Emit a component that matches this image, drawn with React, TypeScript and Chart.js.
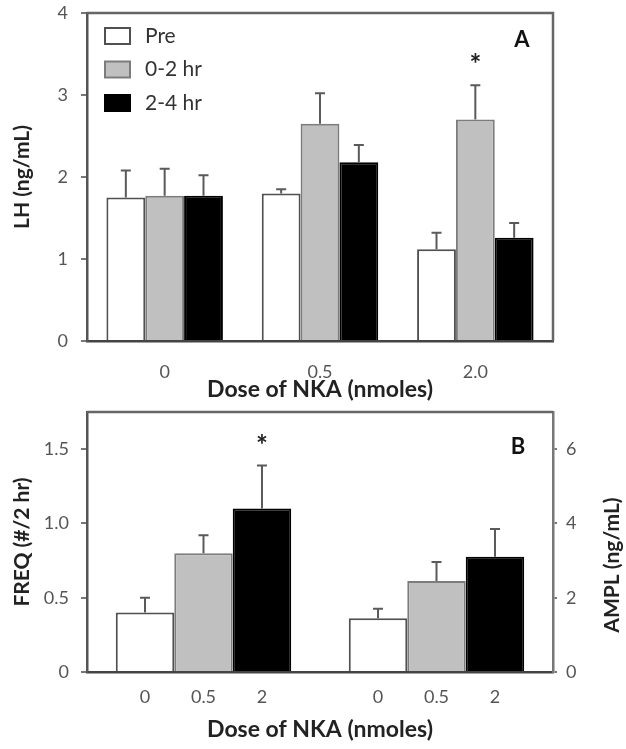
import React, { useEffect, useRef } from "react";
import { Chart, registerables } from "chart.js";
Chart.register(...registerables);

// ---------- Panel A data ----------
const doseCategoriesA = ["0", "0.5", "2.0"];
const seriesLabels = ["Pre", "0-2 hr", "2-4 hr"];
const lhPre = [1.75, 1.8, 1.12];
const lhPreErr = [0.33, 0.05, 0.2];
const lh02 = [1.77, 2.65, 2.7];
const lh02Err = [0.33, 0.37, 0.42];
const lh24 = [1.77, 2.18, 1.26];
const lh24Err = [0.25, 0.21, 0.18];
const lhAxisMax = 4;

// ---------- Panel B data ----------
const measuresB = ["FREQ", "AMPL"];
const doseLabelsB = ["0", "0.5", "2"];
const freqValues = [0.4, 0.8, 1.1];
const freqErr = [0.1, 0.12, 0.29];
const amplValues = [1.45, 2.45, 3.1];
const amplErr = [0.25, 0.51, 0.75];
const freqAxisMax = 1.75;
const amplAxisMax = 7;

const FONT = "Lato, 'DejaVu Sans', sans-serif";
const fills = ["#ffffff", "#c0c0c0", "#000000"];
const borders = ["#505050", "#7c7c7c", "#000000"];

const errorBarPlugin = {
  id: "errorBars",
  afterDatasetsDraw(chart: any) {
    const ctx = chart.ctx;
    chart.data.datasets.forEach((ds: any, di: number) => {
      const meta = chart.getDatasetMeta(di);
      const yScale = chart.scales[meta.yAxisID];
      meta.data.forEach((el: any, i: number) => {
        const v = ds.data[i];
        const e = ds.errors ? ds.errors[i] : null;
        if (v == null || e == null) return;
        const yTop = yScale.getPixelForValue(v + e);
        ctx.save();
        ctx.strokeStyle = "#5a5a5a";
        ctx.lineWidth = 2;
        ctx.beginPath();
        ctx.moveTo(el.x, el.y);
        ctx.lineTo(el.x, yTop);
        ctx.moveTo(el.x - 5, yTop);
        ctx.lineTo(el.x + 5, yTop);
        ctx.stroke();
        if (ds.starIndex === i) {
          ctx.fillStyle = "#222";
          ctx.font = `bold 28px ${FONT}`;
          ctx.textAlign = "center";
          ctx.textBaseline = "middle";
          ctx.fillText("*", el.x, yTop - 20);
        }
        ctx.restore();
      });
    });
  },
};

const framePlugin = {
  id: "frame",
  afterDraw(chart: any, _args: any, opts: any) {
    const { ctx, chartArea: a } = chart;
    ctx.save();
    ctx.strokeStyle = "#666";
    ctx.lineWidth = 2.5;
    ctx.beginPath();
    ctx.moveTo(a.left, a.top);
    ctx.lineTo(a.right, a.top);
    if (opts.right) ctx.lineTo(a.right, a.bottom);
    ctx.stroke();
    if (opts.label) {
      ctx.fillStyle = "#111";
      ctx.font = `bold 22px ${FONT}`;
      ctx.textAlign = "center";
      ctx.textBaseline = "middle";
      ctx.fillText(opts.label, a.right + opts.labelDx, a.top + opts.labelDy);
    }
    ctx.restore();
  },
};

const boxLegendPlugin = {
  id: "boxLegend",
  afterDraw(chart: any, _args: any, opts: any) {
    if (!opts.show) return;
    const { ctx, chartArea: a } = chart;
    ctx.save();
    chart.data.datasets.forEach((ds: any, i: number) => {
      const cy = a.top + 23 + i * 33.5;
      const x = a.left + 18;
      ctx.fillStyle = ds.backgroundColor;
      ctx.fillRect(x, cy - 8, 25, 16);
      ctx.strokeStyle = ds.borderColor;
      ctx.lineWidth = 2;
      ctx.strokeRect(x, cy - 8, 25, 16);
      ctx.fillStyle = "#333";
      ctx.font = `21px ${FONT}`;
      ctx.textAlign = "left";
      ctx.textBaseline = "middle";
      ctx.fillText(ds.label, x + 40, cy);
    });
    ctx.restore();
  },
};

const doseLabelPlugin = {
  id: "doseLabels",
  afterDraw(chart: any, _args: any, opts: any) {
    if (!opts.show) return;
    const { ctx, chartArea: a } = chart;
    ctx.save();
    ctx.fillStyle = "#555";
    ctx.font = `18px ${FONT}`;
    ctx.textAlign = "center";
    ctx.textBaseline = "middle";
    chart.data.datasets.forEach((ds: any, di: number) => {
      const meta = chart.getDatasetMeta(di);
      meta.data.forEach((el: any, i: number) => {
        if (ds.data[i] == null) return;
        ctx.fillText(doseLabelsB[ds.doseIndex], el.x, a.bottom + 25);
      });
    });
    if (opts.rightTitle) {
      ctx.fillStyle = "#222";
      ctx.font = `bold 21px ${FONT}`;
      ctx.translate(a.right + 59, a.top + 153);
      ctx.rotate(-Math.PI / 2);
      ctx.fillText(opts.rightTitle, 0, 0);
    }
    ctx.restore();
  },
};

Chart.register(errorBarPlugin, framePlugin, boxLegendPlugin, doseLabelPlugin);

const yTitle = (text: string) => ({
  display: true,
  text,
  color: "#222",
  font: { family: FONT, size: 21, weight: "bold" as const },
  padding: { top: 10 },
});

const xTitle = (pb: number) => ({
  display: true,
  text: "Dose of NKA (nmoles)",
  color: "#222",
  font: { family: FONT, size: 23, weight: "bold" as const },
  padding: { bottom: pb },
});

export default function App() {
  const refA = useRef<HTMLCanvasElement>(null);
  const refB = useRef<HTMLCanvasElement>(null);

  useEffect(() => {
    Chart.defaults.font.family = FONT;
    const chartA = new Chart(refA.current!, {
      type: "bar",
      data: {
        labels: doseCategoriesA,
        datasets: [
          { label: seriesLabels[0], data: lhPre, errors: lhPreErr },
          { label: seriesLabels[1], data: lh02, errors: lh02Err, starIndex: 2 },
          { label: seriesLabels[2], data: lh24, errors: lh24Err },
        ].map((d, i) => ({
          ...d,
          backgroundColor: fills[i],
          borderColor: borders[i],
          borderWidth: 2,
          categoryPercentage: 0.75,
          barPercentage: 1.0,
        })) as any,
      },
      options: {
        responsive: false,
        animation: false,
        layout: { padding: { left: 0, right: 73, top: 13, bottom: 0 } },
        plugins: {
          legend: { display: false },
          tooltip: { enabled: false },
          frame: { right: true, label: "A", labelDx: -31, labelDy: 27 },
          boxLegend: { show: true },
          doseLabels: { show: false },
        } as any,
        scales: {
          x: {
            grid: { display: false },
            border: { display: true, color: "#444", width: 2.5 },
            ticks: { color: "#555", font: { size: 18 }, padding: 12 },
            title: xTitle(7),
            afterFit: (ax: any) => {
              ax.height = 69;
              ax.paddingLeft = 0;
              ax.paddingRight = 0;
            },
          },
          y: {
            min: 0,
            max: lhAxisMax,
            ticks: { stepSize: 1, color: "#555", font: { size: 18 }, padding: 13 },
            grid: { display: true, drawOnChartArea: false, drawTicks: true, tickLength: 6, color: "#777", lineWidth: 2 },
            border: { display: true, color: "#555", width: 2.5 },
            title: yTitle("LH (ng/mL)"),
            afterFit: (ax: any) => {
              ax.width = 87;
              ax.paddingTop = 0;
              ax.paddingBottom = 0;
            },
          },
        },
      } as any,
    });

    const bDatasets: any[] = [];
    freqValues.forEach((v, i) =>
      bDatasets.push({ label: `FREQ ${doseLabelsB[i]}`, data: [v, null], errors: [freqErr[i], null], yAxisID: "y", doseIndex: i, starIndex: i === 2 ? 0 : undefined, stack: `f${i}`, colorIndex: i })
    );
    amplValues.forEach((v, i) =>
      bDatasets.push({ label: `AMPL ${doseLabelsB[i]}`, data: [null, v], errors: [null, amplErr[i]], yAxisID: "y2", doseIndex: i, stack: `a${i}`, colorIndex: i })
    );

    const chartB = new Chart(refB.current!, {
      type: "bar",
      data: {
        labels: measuresB,
        datasets: bDatasets.map((d) => ({
          ...d,
          backgroundColor: fills[d.colorIndex],
          borderColor: borders[d.colorIndex],
          borderWidth: 2,
          categoryPercentage: 0.753,
          barPercentage: 1.0,
          skipNull: true,
        })),
      },
      options: {
        responsive: false,
        animation: false,
        skipNull: true,
        layout: { padding: { left: 0, right: 0, top: 2, bottom: 0 } },
        plugins: {
          legend: { display: false },
          tooltip: { enabled: false },
          frame: { right: false, label: "B", labelDx: -35, labelDy: 35 },
          boxLegend: { show: false },
          doseLabels: { show: true, rightTitle: "AMPL (ng/mL)" },
        } as any,
        scales: {
          x: {
            stacked: false,
            grid: { display: false },
            border: { display: true, color: "#444", width: 2.5 },
            ticks: { display: false },
            title: xTitle(6),
            afterFit: (ax: any) => {
              ax.height = 77;
              ax.paddingLeft = 0;
              ax.paddingRight = 0;
            },
          },
          y: {
            position: "left",
            min: 0,
            max: freqAxisMax,
            ticks: {
              stepSize: 0.5,
              includeBounds: false,
              color: "#555",
              font: { size: 18 },
              padding: 12,
              callback: (v: any) => (Number(v) === 0 ? "0" : Number(v).toFixed(1)),
            },
            grid: { display: true, drawOnChartArea: false, drawTicks: true, tickLength: 6, color: "#777", lineWidth: 2 },
            border: { display: true, color: "#555", width: 2.5 },
            title: yTitle("FREQ (#/2 hr)"),
            afterFit: (ax: any) => {
              ax.width = 87;
              ax.paddingTop = 0;
              ax.paddingBottom = 0;
            },
          },
          y2: {
            position: "right",
            min: 0,
            max: amplAxisMax,
            ticks: { stepSize: 2, includeBounds: false, color: "#555", font: { size: 18 }, padding: 9 },
            grid: { display: true, drawOnChartArea: false, drawTicks: true, tickLength: 4, color: "#777", lineWidth: 2 },
            border: { display: true, color: "#777", width: 2.5 },
            afterFit: (ax: any) => {
              ax.width = 73;
              ax.paddingTop = 0;
              ax.paddingBottom = 0;
            },
          },
        },
      } as any,
    });

    return () => {
      chartA.destroy();
      chartB.destroy();
    };
  }, []);

  return (
    <div style={{ position: "absolute", left: 0, top: 0, width: 626, height: 749, background: "#fff" }}>
      <canvas ref={refA} width={626} height={410} style={{ display: "block" }} />
      <canvas ref={refB} width={626} height={339} style={{ display: "block" }} />
    </div>
  );
}
